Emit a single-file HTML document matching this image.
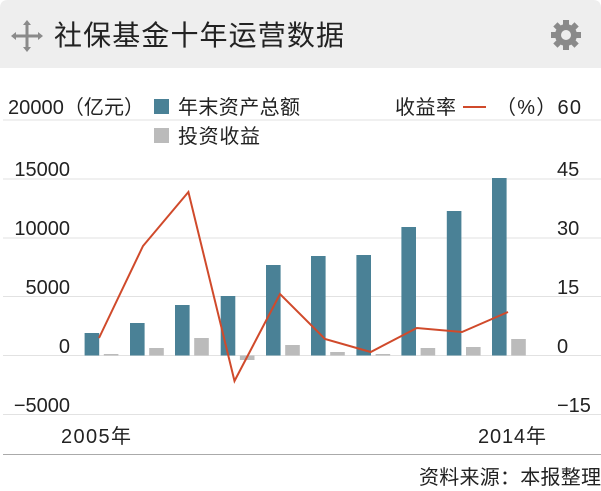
<!DOCTYPE html>
<html><head><meta charset="utf-8"><style>
body{margin:0;background:#fff;width:601px;height:491px;overflow:hidden;font-family:"Liberation Sans","Noto Sans CJK SC",sans-serif;}
</style></head><body>
<svg width="601" height="491" xmlns="http://www.w3.org/2000/svg" style="display:block;font-family:'Liberation Sans','Noto Sans CJK SC',sans-serif">
<path d="M0,68 V8 Q0,0 8,0 H593 Q601,0 601,8 V68 Z" fill="#eeeeee"/>
<g stroke="#8a8a8a" stroke-width="3" fill="#8a8a8a">
<line x1="14" y1="36" x2="40" y2="36"/><line x1="27" y1="24" x2="27" y2="48"/>
<polygon points="11,36 16,32 16,40" stroke="none"/><polygon points="43,36 38,32 38,40" stroke="none"/>
<polygon points="27,20 23,25 31,25" stroke="none"/><polygon points="27,52 23,47 31,47" stroke="none"/>
</g>
<text x="54" y="45" font-size="28" fill="#222" textLength="290">社保基金十年运营数据</text>
<g transform="translate(566,35)" fill="#8a8a8a">
<circle r="11"/>
<g><rect x="-3" y="-15" width="6" height="30"/><rect x="-15" y="-3" width="30" height="6"/>
<rect x="-3" y="-15" width="6" height="30" transform="rotate(45)"/><rect x="-3" y="-15" width="6" height="30" transform="rotate(-45)"/></g>
<circle r="5" fill="#eeeeee"/>
</g>
<g stroke="#e2e2e2" stroke-width="1">
<line x1="3" y1="120" x2="601" y2="120"/><line x1="3" y1="179" x2="601" y2="179"/>
<line x1="3" y1="238" x2="601" y2="238"/><line x1="3" y1="296.5" x2="601" y2="296.5"/>
<line x1="3" y1="355.5" x2="601" y2="355.5"/><line x1="3" y1="414.5" x2="601" y2="414.5"/>
</g>
<g font-size="20" fill="#222">
<text x="8" y="114" textLength="136">20000（亿元）</text>
<rect x="154" y="99" width="15" height="15" fill="#4a8196"/><text x="178" y="114" textLength="122">年末资产总额</text>
<rect x="154" y="128" width="15" height="15" fill="#bbbbbb"/><text x="178" y="143" textLength="82">投资收益</text>
<text x="395" y="114" textLength="61">收益率</text>
<line x1="463" y1="107" x2="486" y2="107" stroke="#d04a2b" stroke-width="2"/>
<text x="496" y="114" textLength="85">（%）60</text>
<g text-anchor="end">
<text x="70" y="176">15000</text><text x="70" y="235">10000</text><text x="70" y="294">5000</text>
<text x="70" y="353">0</text><text x="70" y="412">−5000</text></g>
<text x="557" y="176">45</text><text x="557" y="235">30</text><text x="557" y="294">15</text>
<text x="557" y="353">0</text><text x="557" y="412">−15</text>
<text x="61" y="443" textLength="70">2005年</text><text x="478" y="443" textLength="68">2014年</text>
</g>
<g fill="#4a8196">
<rect x="84.6" y="333" width="14.6" height="22.5"/><rect x="130" y="323" width="14.6" height="32.5"/>
<rect x="175" y="305" width="14.6" height="50.5"/><rect x="220.7" y="296" width="14.6" height="59.5"/>
<rect x="266" y="265" width="14.6" height="90.5"/><rect x="311" y="256" width="14.6" height="99.5"/>
<rect x="356.4" y="255" width="14.6" height="100.5"/><rect x="401.4" y="227" width="14.6" height="128.5"/>
<rect x="446.8" y="211" width="14.6" height="144.5"/><rect x="492" y="178" width="14.6" height="177.5"/>
</g>
<g fill="#bbbbbb">
<rect x="103.8" y="354" width="14.6" height="1.5"/><rect x="149.2" y="348" width="14.6" height="7.5"/>
<rect x="194.2" y="338" width="14.6" height="17.5"/><rect x="239.9" y="355.5" width="14.6" height="4.5"/>
<rect x="285.2" y="345" width="14.6" height="10.5"/><rect x="330.2" y="352" width="14.6" height="3.5"/>
<rect x="375.6" y="354" width="14.6" height="1.5"/><rect x="420.6" y="348" width="14.6" height="7.5"/>
<rect x="466" y="347" width="14.6" height="8.5"/><rect x="511.2" y="339" width="14.6" height="16.5"/>
</g>
<polyline fill="none" stroke="#d04a2b" stroke-width="2" points="99,338 143,246 188.4,192 234.5,381 280,294 325,339 370.7,352 416.8,328 462,332 508,312"/>
<line x1="3" y1="454.5" x2="601" y2="454.5" stroke="#aaa" stroke-width="1"/>
<text x="419" y="484" font-size="20" fill="#222" textLength="182">资料来源：本报整理</text>
</svg>
</body></html>
